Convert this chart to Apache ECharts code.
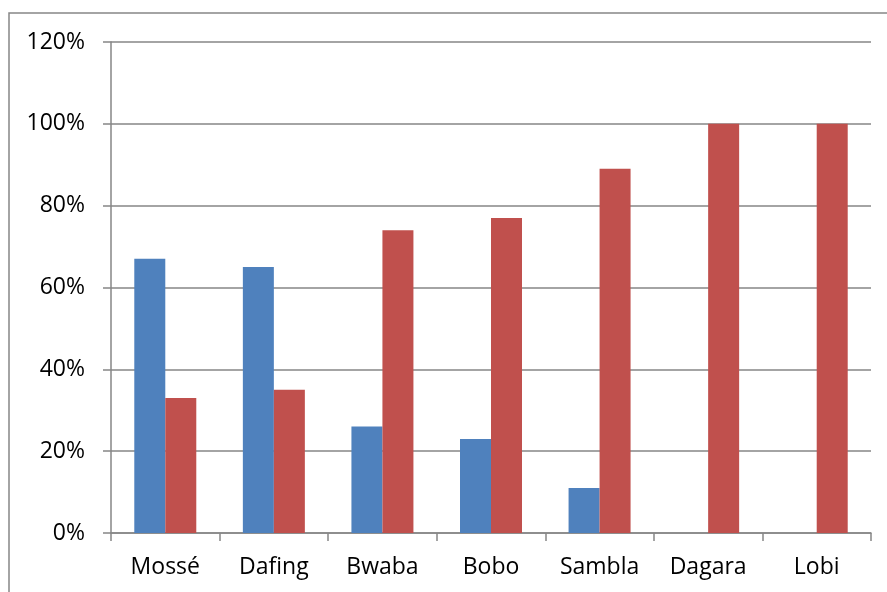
<!DOCTYPE html>
<html>
<head>
<meta charset="utf-8">
<script src="https://cdn.jsdelivr.net/npm/echarts@6/dist/echarts.min.js"></script>
<style>
  html, body { margin: 0; padding: 0; background: #fff; }
  #chart { width: 887px; height: 592px; }
</style>
</head>
<body>
<div id="chart"></div>
<script>
// Ethnic groups shown along the horizontal axis
const groups = ['Mossé', 'Dafing', 'Bwaba', 'Bobo', 'Sambla', 'Dagara', 'Lobi'];
// Shares (percent) for the two series
const blueShare = [67, 65, 26, 23, 11, 0, 0];
const redShare = [33, 35, 74, 77, 89, 100, 100];
// Vertical axis range
const yMin = 0;
const yMax = 120;
const yStep = 20;

const axisGray = '#868686';
const font = 'Open Sans, Noto Sans, sans-serif';

const chart = echarts.init(document.getElementById('chart'), null, { renderer: 'canvas' });
chart.setOption({
  animation: false,
  backgroundColor: '#ffffff',
  graphic: [{
    type: 'rect',
    shape: { x: 9, y: 13, width: 900, height: 600 },
    style: { fill: 'none', stroke: axisGray, lineWidth: 1.5 },
    silent: true
  }],
  grid: { left: 111, right: 16, top: 42, bottom: 59, containLabel: false },
  xAxis: {
    type: 'category',
    data: groups,
    boundaryGap: true,
    axisLine: { show: true, lineStyle: { color: axisGray, width: 1.5 } },
    axisTick: { show: true, length: 8, lineStyle: { color: axisGray, width: 1.5 }, alignWithLabel: false },
    axisLabel: { color: '#000', fontSize: 23, fontFamily: font, margin: 23 },
    splitLine: { show: false }
  },
  yAxis: {
    type: 'value',
    min: yMin,
    max: yMax,
    interval: yStep,
    axisLine: { show: true, lineStyle: { color: axisGray, width: 1.5 } },
    axisTick: { show: true, length: 8, lineStyle: { color: axisGray, width: 1.5 } },
    axisLabel: { color: '#000', fontSize: 23, fontFamily: font, margin: 26, formatter: '{value}%' },
    splitLine: { show: true, lineStyle: { color: axisGray, width: 1.5 } }
  },
  series: [
    {
      type: 'bar',
      data: blueShare,
      barWidth: 31,
      barGap: '0%',
      itemStyle: { color: '#4F81BD' }
    },
    {
      type: 'bar',
      data: redShare,
      barWidth: 31,
      barGap: '0%',
      itemStyle: { color: '#C0504D' }
    }
  ]
});
</script>
</body>
</html>
